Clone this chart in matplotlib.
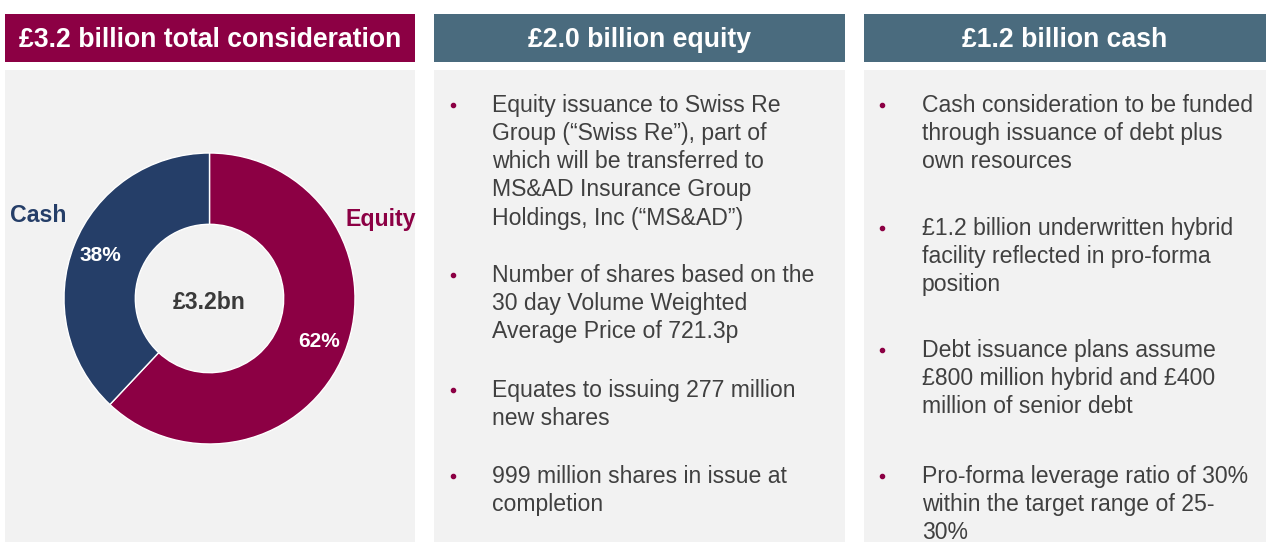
import matplotlib.pyplot as plt
from matplotlib.patches import Rectangle

plt.rcParams['font.family'] = ['Liberation Sans', 'DejaVu Sans']

# colours
maroon = '#8C0044'
slate = '#4A6B7E'
navy = '#253E68'
panel_grey = '#F2F2F2'
text_grey = '#404040'

# donut data
segments = ['Equity', 'Cash']
shares = [62, 38]
seg_colors = [maroon, navy]
total_label = '£3.2bn'

# panel headers
headers = ['£3.2 billion total consideration', '£2.0 billion equity', '£1.2 billion cash']
header_colors = [maroon, slate, slate]

# bullet text, one list per panel
equity_bullets = [
    'Equity issuance to Swiss Re\nGroup (“Swiss Re”), part of\nwhich will be transferred to\nMS&AD Insurance Group\nHoldings, Inc (“MS&AD”)',
    'Number of shares based on the\n30 day Volume Weighted\nAverage Price of 721.3p',
    'Equates to issuing 277 million\nnew shares',
    '999 million shares in issue at\ncompletion',
]
equity_rows = [104, 274, 389, 475]
cash_bullets = [
    'Cash consideration to be funded\nthrough issuance of debt plus\nown resources',
    '£1.2 billion underwritten hybrid\nfacility reflected in pro-forma\nposition',
    'Debt issuance plans assume\n£800 million hybrid and £400\nmillion of senior debt',
    'Pro-forma leverage ratio of 30%\nwithin the target range of 25-\n30%',
]
cash_rows = [104, 227, 349, 475]

W, H = 1266, 542
fig = plt.figure(figsize=(W / 100, H / 100), dpi=100)
fig.patch.set_facecolor('white')

# background axes in pixel coordinates
bg = fig.add_axes([0, 0, 1, 1])
bg.set_xlim(0, W)
bg.set_ylim(H, 0)
bg.axis('off')

panels_x = [(5, 415), (434, 845), (864, 1266)]
for (x0, x1), title, col in zip(panels_x, headers, header_colors):
    bg.add_patch(Rectangle((x0, 14), x1 - x0, 48, color=col, lw=0))
    bg.add_patch(Rectangle((x0, 70), x1 - x0, H - 70, color=panel_grey, lw=0))
    bg.text((x0 + x1) / 2, 40, title, color='white', fontsize=19.2, fontweight='bold',
            ha='center', va='center')

def draw_bullets(items, rows, x_dot, x_text):
    for txt, y in zip(items, rows):
        bg.plot(x_dot, y + 1, 'o', color=maroon, ms=3)
        bg.text(x_text, y - 10, txt, color=text_grey, fontsize=16.6, ha='left', va='top',
                linespacing=1.285)

draw_bullets(equity_bullets, equity_rows, 453, 492)
draw_bullets(cash_bullets, cash_rows, 882, 922)

# donut chart
cx, cy, r = 209.5, 298.5, 145.5
ax = fig.add_axes([(cx - r) / W, (H - cy - r) / H, 2 * r / W, 2 * r / H])
wedges, _, pcts = ax.pie(shares, colors=seg_colors, startangle=90, counterclock=False,
                         autopct='%d%%', pctdistance=0.81,
                         wedgeprops=dict(width=0.49, edgecolor='white', linewidth=1),
                         textprops=dict(color='white', fontsize=15, fontweight='bold'))
ax.set_xlim(-1, 1)
ax.set_ylim(-1, 1)
ax.set_aspect('equal')
ax.axis('off')
ax.text(0, -0.03, total_label, ha='center', va='center', fontsize=16.6, fontweight='bold',
        color='#3A3A3A')
ax.text(-1.18, 0.57, 'Cash', ha='center', va='center', fontsize=16.7, fontweight='bold',
        color=navy, clip_on=False)
ax.text(1.18, 0.545, 'Equity', ha='center', va='center', fontsize=16.7, fontweight='bold',
        color=maroon, clip_on=False)

fig.savefig('out.png', dpi=100)
